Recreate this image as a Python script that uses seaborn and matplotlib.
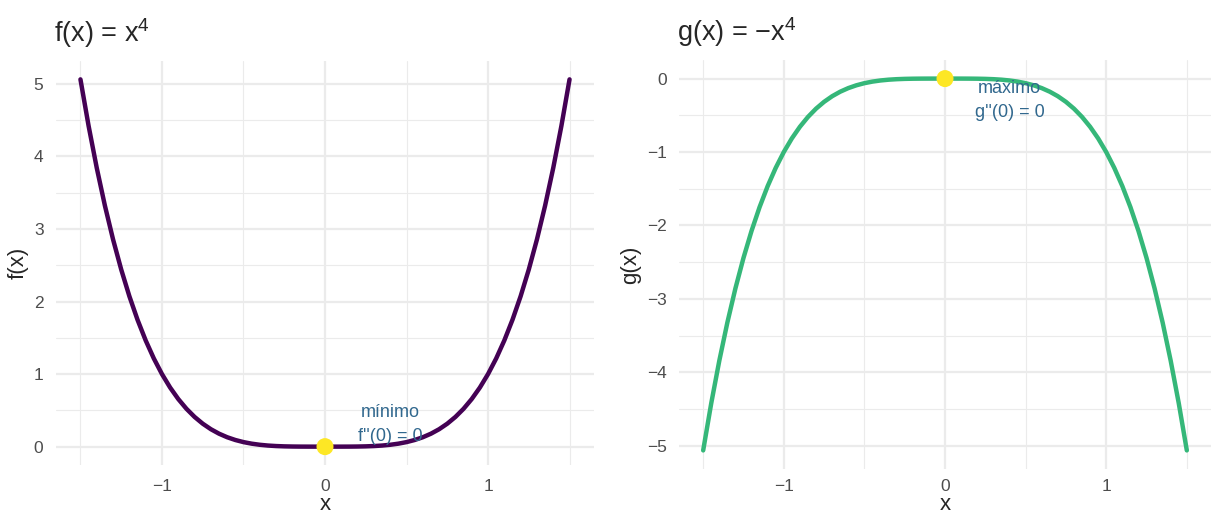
import matplotlib
matplotlib.use("Agg")
import matplotlib.pyplot as plt
import seaborn as sns
import pandas as pd

# ── Dados ────────────────────────────────────────────────────────────────────
x_vals = [-1.5, -1.45, -1.4, -1.35, -1.3, -1.25, -1.2, -1.15, -1.1, -1.05,
          -1.0, -0.95, -0.9, -0.85, -0.8, -0.75, -0.7, -0.65, -0.6, -0.55,
          -0.5, -0.45, -0.4, -0.35, -0.3, -0.25, -0.2, -0.15, -0.1, -0.05,
          0.0, 0.05, 0.1, 0.15, 0.2, 0.25, 0.3, 0.35, 0.4, 0.45, 0.5, 0.55,
          0.6, 0.65, 0.7, 0.75, 0.8, 0.85, 0.9, 0.95, 1.0, 1.05, 1.1, 1.15,
          1.2, 1.25, 1.3, 1.35, 1.4, 1.45, 1.5]
f_vals = [5.0625, 4.4205, 3.8416, 3.3215, 2.8561, 2.4414, 2.0736, 1.7490,
          1.4641, 1.2155, 1.0, 0.8145, 0.6561, 0.5220, 0.4096, 0.3164,
          0.2401, 0.1785, 0.1296, 0.0915, 0.0625, 0.0410, 0.0256, 0.0150,
          0.0081, 0.0039, 0.0016, 0.0005, 0.0001, 0.0000,
          0.0,
          0.0000, 0.0001, 0.0005, 0.0016, 0.0039, 0.0081, 0.0150, 0.0256,
          0.0410, 0.0625, 0.0915, 0.1296, 0.1785, 0.2401, 0.3164, 0.4096,
          0.5220, 0.6561, 0.8145, 1.0, 1.2155, 1.4641, 1.7490, 2.0736,
          2.4414, 2.8561, 3.3215, 3.8416, 4.4205, 5.0625]
g_vals = [-5.0625, -4.4205, -3.8416, -3.3215, -2.8561, -2.4414, -2.0736,
          -1.7490, -1.4641, -1.2155, -1.0, -0.8145, -0.6561, -0.5220, -0.4096,
          -0.3164, -0.2401, -0.1785, -0.1296, -0.0915, -0.0625, -0.0410,
          -0.0256, -0.0150, -0.0081, -0.0039, -0.0016, -0.0005, -0.0001, -0.0000,
          0.0,
          -0.0000, -0.0001, -0.0005, -0.0016, -0.0039, -0.0081, -0.0150,
          -0.0256, -0.0410, -0.0625, -0.0915, -0.1296, -0.1785, -0.2401,
          -0.3164, -0.4096, -0.5220, -0.6561, -0.8145, -1.0, -1.2155, -1.4641,
          -1.7490, -2.0736, -2.4414, -2.8561, -3.3215, -3.8416, -4.4205, -5.0625]
crit_x = [0.0]
crit_y = [0.0]
x_ticks = [-1, 0, 1]
f_ticks = [0, 1, 2, 3, 4, 5]
g_ticks = [-5, -4, -3, -2, -1, 0]

COR_F = "#440154"
COR_G = "#35B779"
COR_PONTO = "#FDE725"
COR_TEXTO = "#31688E"

sns.set_theme(style="white")
plt.rcParams["font.family"] = ["Liberation Sans", "DejaVu Sans"]
plt.rcParams["mathtext.fontset"] = "custom"
plt.rcParams["mathtext.rm"] = "Liberation Sans"
plt.rcParams["mathtext.default"] = "regular"

df_f = pd.DataFrame({"x": x_vals, "y": f_vals})
df_g = pd.DataFrame({"x": x_vals, "y": g_vals})

fig = plt.figure(figsize=(12.12, 5.18), dpi=100)
ax1 = fig.add_axes([56 / 1212, 53 / 518, 538 / 1212, 404 / 518])
ax2 = fig.add_axes([679 / 1212, 49 / 518, 532 / 1212, 409 / 518])

paineis = [
    (ax1, df_f, COR_F, f_ticks, "f(x)", "f(x) = x$^4$", "mínimo\nf''(0) = 0", 0.3, 10),
    (ax2, df_g, COR_G, g_ticks, "g(x)", "g(x) = \u2212x$^4$", "máximo\ng''(0) = 0", -0.3, 7),
]

for ax, df, cor, yt, ylab, titulo, nota, ny, xpad in paineis:
    ymin, ymax = df["y"].min(), df["y"].max()
    pad = (ymax - ymin) * 0.05
    ax.set_xlim(-1.65, 1.65)
    ax.set_ylim(ymin - pad, ymax + pad)

    # grade menor e maior (estilo theme_minimal)
    for v in [-1.5, -0.5, 0.5, 1.5]:
        ax.axvline(v, color="#EBEBEB", lw=0.8, zorder=0)
    for v in [t + 0.5 for t in yt[:-1]]:
        ax.axhline(v, color="#EBEBEB", lw=0.8, zorder=0)
    for v in x_ticks:
        ax.axvline(v, color="#EBEBEB", lw=1.6, zorder=0)
    for v in yt:
        ax.axhline(v, color="#EBEBEB", lw=1.6, zorder=0)

    sns.lineplot(data=df, x="x", y="y", ax=ax, color=cor, linewidth=3.2, zorder=3)
    sns.scatterplot(x=crit_x, y=crit_y, ax=ax, color=COR_PONTO, s=150,
                    edgecolor="none", zorder=4)
    ax.text(0.4, ny, nota, color=COR_TEXTO, fontsize=13, ha="center",
            va="center", linespacing=1.55, zorder=5)

    ax.set_xticks(x_ticks)
    ax.set_xticklabels(["\u22121", "0", "1"])
    ax.set_yticks(yt)
    ax.set_yticklabels([str(t).replace("-", "\u2212") for t in yt])
    ax.tick_params(length=0, labelsize=12.5, labelcolor="#4D4D4D")
    ax.tick_params(axis="y", pad=9)
    ax.tick_params(axis="x", pad=xpad)
    for s in ax.spines.values():
        s.set_visible(False)
    ax.set_xlabel("x", fontsize=16, labelpad=0)
    ax.set_ylabel(ylab, fontsize=16, labelpad=4)
    ax.set_title(titulo, loc="left", fontsize=19.5, pad=14, x=-0.003)

plt.savefig("out.png", dpi=100)
plt.close()
